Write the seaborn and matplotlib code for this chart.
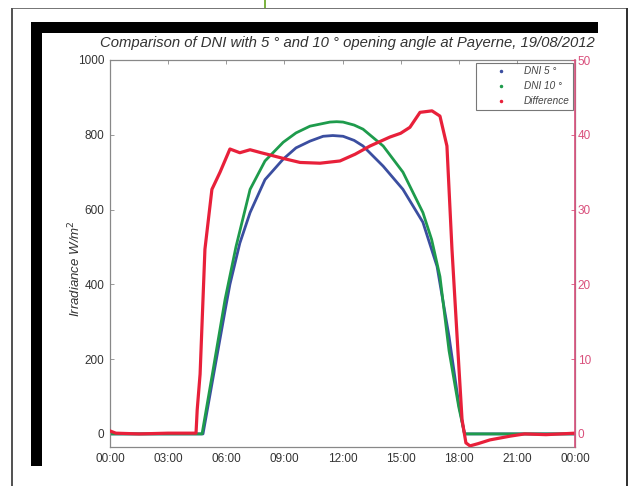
import matplotlib.pyplot as plt
import seaborn as sns
from matplotlib.patches import Rectangle
from matplotlib.lines import Line2D

# values (hours of day, W/m2 and %)
hours_5 = [0, 4.8, 5.3, 5.94, 6.19, 6.7, 7.23, 8.0, 8.94, 9.6, 10.32, 11.0, 11.5,
           12.03, 12.6, 13.06, 14.1, 15.12, 16.15, 16.88, 17.5, 18.0, 18.3, 24]
dni_5 = [0, 0, 145, 330, 400, 510, 592, 680, 735, 765, 783, 796, 798,
         796, 785, 770, 716, 654, 566, 448, 260, 80, 0, 0]

hours_10 = [0, 4.75, 5.3, 5.94, 6.5, 7.23, 8.0, 8.94, 9.6, 10.32, 11.35, 11.7,
            12.03, 12.6, 13.06, 14.1, 15.12, 16.15, 16.6, 17.03, 17.5, 18.0, 18.3, 24]
dni_10 = [0, 0, 165, 360, 500, 654, 730, 780, 805, 823, 834, 835,
          834, 826, 815, 770, 700, 592, 520, 421, 222, 72, 0, 0]

hours_diff = [0, 0.3, 1.5, 3.0, 4.44, 4.5, 4.65, 4.9, 5.26, 5.68, 6.19, 6.7, 7.23,
              7.8, 8.26, 9.0, 9.81, 10.84, 11.87, 12.65, 13.42, 14.45, 15.0, 15.48,
              16.0, 16.62, 17.03, 17.39, 17.65, 17.96, 18.17, 18.37, 18.58, 19.0,
              19.61, 20.65, 21.4, 22.5, 24]
diff = [0.4, 0.1, 0.0, 0.1, 0.1, 3.2, 8.0, 24.7, 32.7, 35.0, 38.1, 37.6, 38.0,
        37.6, 37.3, 36.8, 36.3, 36.2, 36.5, 37.4, 38.5, 39.7, 40.2, 41.0,
        43.0, 43.2, 42.5, 38.5, 24.7, 11.0, 1.9, -1.2, -1.6, -1.3,
        -0.8, -0.3, 0.0, -0.1, 0.1]

tick_hours = [0, 3, 6, 9, 12, 15, 18, 21, 24]
tick_labels = ['00:00', '03:00', '06:00', '09:00', '12:00', '15:00', '18:00', '21:00', '00:00']
left_ticks = [0, 200, 400, 600, 800, 1000]
right_ticks = [0, 10, 20, 30, 40, 50]

blue = '#3b4ea0'
green = '#1e9b4c'
red = '#e8203a'
pink = '#d9507c'
txt = '#333333'

sns.set_style('white')
plt.rcParams['font.family'] = ['Liberation Sans', 'DejaVu Sans']

W, H = 633, 486
fig = plt.figure(figsize=(W / 100, H / 100), dpi=100)


def box(x0, y0, x1, y1, color):
    # page decoration given in pixels from the top-left corner
    fig.patches.append(Rectangle((x0 / W, 1 - y1 / H), (x1 - x0) / W, (y1 - y0) / H,
                                 transform=fig.transFigure, color=color, lw=0, zorder=0))


# scanned page frame
box(11, 8, 627, 9.5, '#777777')
box(11, 8, 12.5, 486, '#555555')
box(626, 8, 627.5, 486, '#333333')
box(264, 0, 266, 8, '#7cb342')
box(31, 22, 598, 33, 'black')
box(31, 22, 42, 466, 'black')

ax = fig.add_axes([110 / W, 1 - 447 / H, 465 / W, 387 / H])
sns.lineplot(x=hours_5, y=dni_5, color=blue, lw=2, ax=ax)
sns.lineplot(x=hours_10, y=dni_10, color=green, lw=2, ax=ax)
ax.set_xlim(0, 24)
ax.set_ylim(-35, 1000)
ax.set_xticks(tick_hours)
ax.set_xticklabels(tick_labels)
ax.set_yticks(left_ticks)
ax.tick_params(direction='in', length=3, width=0.6, colors='#888888', labelcolor=txt,
               labelsize=8.5, top=True, pad=4)
for s in ax.spines.values():
    s.set_color('#888888')
    s.set_linewidth(0.9)
ax.set_ylabel('Irradiance W/m$^2$', fontsize=9.5, style='italic', color=txt, labelpad=2)
ax.yaxis.set_label_coords(-0.058, 0.46)
ax.set_title('Comparison of DNI with 5 \u00b0 and 10 \u00b0 opening angle at Payerne, 19/08/2012',
             fontsize=10.7, style='italic', color=txt, pad=9, x=0.51)

ax2 = ax.twinx()
sns.lineplot(x=hours_diff, y=diff, color=red, lw=2.3, ax=ax2)
ax2.set_ylim(-1.75, 50)
ax2.set_yticks(right_ticks)
ax2.tick_params(direction='in', length=3, width=0.6, colors=pink, labelsize=8.5, pad=2)
ax2.spines['right'].set_color(pink)
ax2.spines['right'].set_linewidth(1.2)
for k in ['left', 'top', 'bottom']:
    ax2.spines[k].set_visible(False)
ax2.set_ylabel('')

handles = [Line2D([], [], ls='', marker='.', ms=3, color=c) for c in [blue, green, red]]
leg = ax2.legend(handles, ['DNI 5 \u00b0', 'DNI 10 \u00b0', 'Difference'],
                 loc='upper right', bbox_to_anchor=(0.996, 0.993), fontsize=7.2,
                 frameon=True, fancybox=False, edgecolor='#555555', handlelength=4.3,
                 borderpad=0.35, labelspacing=0.5, handletextpad=0.1, borderaxespad=0)
leg.get_frame().set_linewidth(0.8)
for t in leg.get_texts():
    t.set_style('italic')
    t.set_color('#444444')

fig.savefig('out.png', dpi=100)
